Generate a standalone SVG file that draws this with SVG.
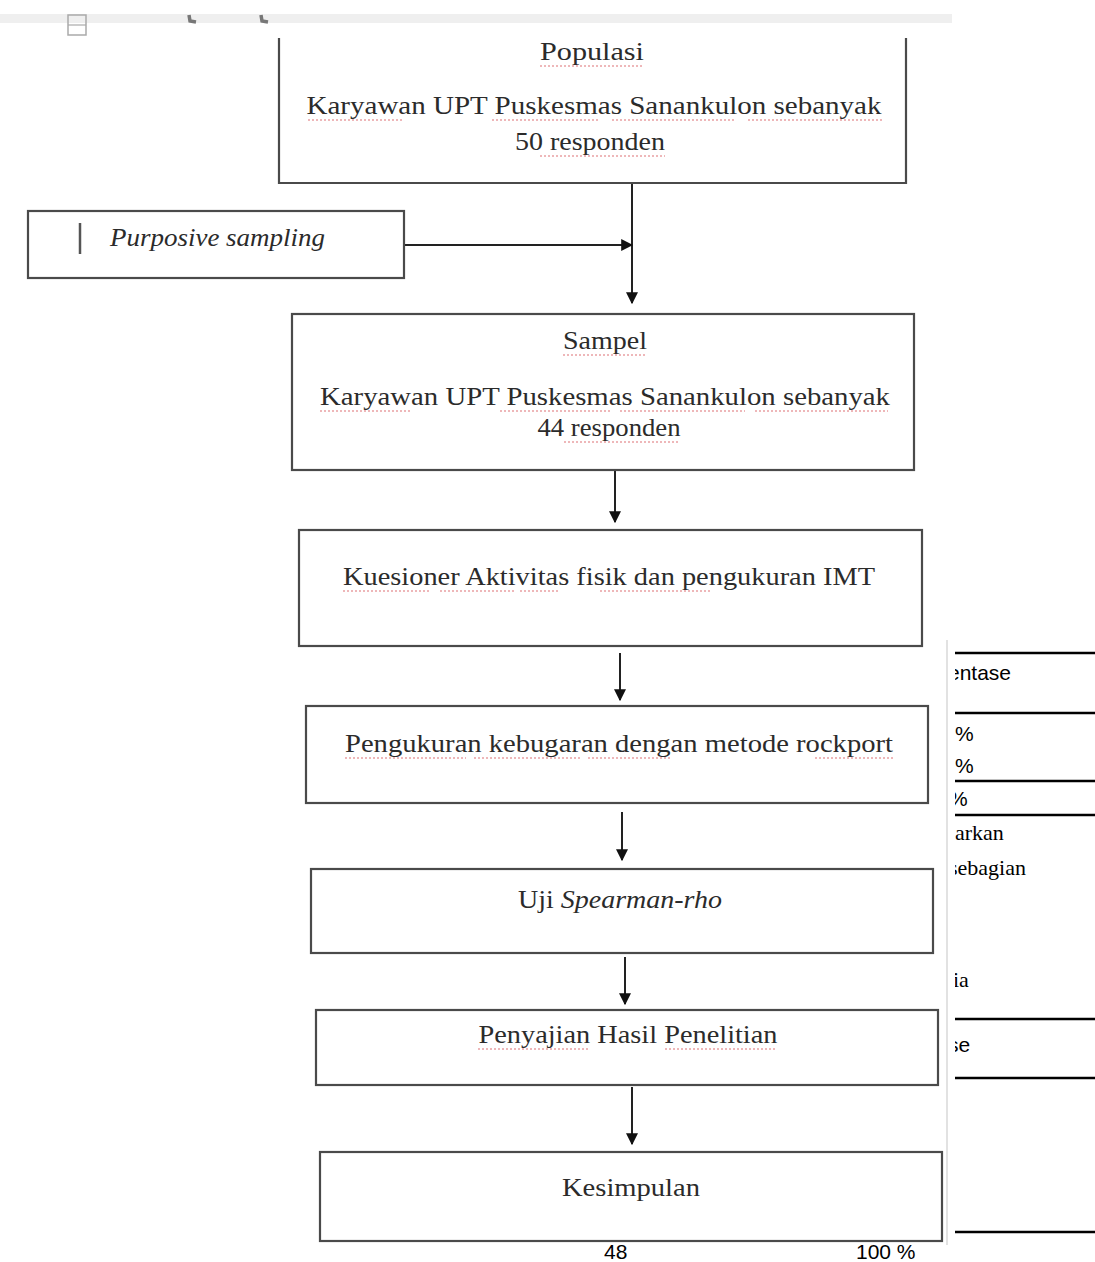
<svg xmlns="http://www.w3.org/2000/svg" width="1095" height="1262" viewBox="0 0 1095 1262">
<style>
.box{fill:#fff;stroke:#4a4a4a;stroke-width:2.2}
.t{font-family:"Liberation Serif","Times New Roman",serif;font-size:25px;fill:#2b2b2b;text-anchor:middle}
.ti{font-family:"Liberation Serif","Times New Roman",serif;font-size:25px;fill:#2b2b2b;font-style:italic}
.c{stroke:#222;stroke-width:2;fill:none}
.sq{stroke:#d0353a;stroke-width:1.2;fill:none;stroke-dasharray:2 2;opacity:.7}
.tbl{stroke:#000;stroke-width:2.5}
.ts{font-family:"Liberation Sans",Arial,sans-serif;font-size:21px;fill:#000}
.tr{font-family:"Liberation Serif","Times New Roman",serif;font-size:22px;fill:#000}
</style>
<defs>
<marker id="ah" viewBox="0 0 10 10" refX="9" refY="5" markerWidth="6" markerHeight="6" orient="auto" markerUnits="strokeWidth">
<path d="M0,0 L10,5 L0,10 z" fill="#111"/>
</marker>
<clipPath id="rc"><rect x="955" y="600" width="140" height="662"/></clipPath>
</defs>
<rect width="1095" height="1262" fill="#fff"/>
<!-- top toolbar strip of scan -->
<rect x="0" y="14" width="952" height="9" fill="#efefef"/>
<rect x="68" y="15" width="18" height="20" fill="none" stroke="#aaa" stroke-width="1.5"/>
<line x1="68" y1="25" x2="86" y2="25" stroke="#aaa" stroke-width="1.2"/>
<path d="M189,15 L190,21 L196,22" stroke="#777" stroke-width="3.5" fill="none"/>
<path d="M261,15 L262,21 L268,22" stroke="#777" stroke-width="3.5" fill="none"/>
<!-- right border of scan -->
<line x1="947" y1="640" x2="947" y2="1245" stroke="#e2e2e2" stroke-width="2"/>

<g id="connectors">
<line class="c" x1="632" y1="184" x2="632" y2="303" marker-end="url(#ah)"/>
<line class="c" x1="404" y1="245" x2="632" y2="245" marker-end="url(#ah)"/>
<line class="c" x1="615" y1="471" x2="615" y2="522" marker-end="url(#ah)"/>
<line class="c" x1="620" y1="653" x2="620" y2="700" marker-end="url(#ah)"/>
<line class="c" x1="622" y1="812" x2="622" y2="860" marker-end="url(#ah)"/>
<line class="c" x1="625" y1="957" x2="625" y2="1004" marker-end="url(#ah)"/>
<line class="c" x1="632" y1="1087" x2="632" y2="1144" marker-end="url(#ah)"/>
</g>

<g id="populasi">
<path class="box" d="M279,38 L279,183 L906,183 L906,38"/>
<text class="t" x="592" y="60" textLength="104" lengthAdjust="spacingAndGlyphs">Populasi</text>
<text class="t" x="594" y="114" textLength="575" lengthAdjust="spacingAndGlyphs">Karyawan UPT Puskesmas Sanankulon sebanyak</text>
<text class="t" x="590" y="150" textLength="150" lengthAdjust="spacingAndGlyphs">50 responden</text>
<path class="sq" d="M540,66 H644 M308,120 H402 M492,120 H600 M612,120 H735 M748,120 H882 M540,156 H665"/>
</g>

<g id="purposive">
<rect class="box" x="28" y="211" width="376" height="67"/>
<line x1="80" y1="223" x2="80" y2="254" stroke="#555" stroke-width="2.5"/>
<text class="ti" x="110" y="246" textLength="215" lengthAdjust="spacingAndGlyphs">Purposive sampling</text>
</g>

<g id="sampel">
<rect class="box" x="292" y="314" width="622" height="156"/>
<text class="t" x="605" y="349" textLength="84" lengthAdjust="spacingAndGlyphs">Sampel</text>
<text class="t" x="605" y="405" textLength="570" lengthAdjust="spacingAndGlyphs">Karyawan UPT Puskesmas Sanankulon sebanyak</text>
<text class="t" x="609" y="436" textLength="143" lengthAdjust="spacingAndGlyphs">44 responden</text>
<path class="sq" d="M563,355 H647 M320,411 H412 M500,411 H610 M620,411 H745 M755,411 H888 M564,442 H680"/>
</g>

<g id="kuesioner">
<rect class="box" x="299" y="530" width="623" height="116"/>
<text class="t" x="609" y="585" textLength="532" lengthAdjust="spacingAndGlyphs">Kuesioner Aktivitas fisik dan pengukuran IMT</text>
<path class="sq" d="M343,591 H430 M440,591 H515 M520,591 H560 M600,591 H712"/>
</g>

<g id="pengukuran">
<rect class="box" x="306" y="706" width="622" height="97"/>
<text class="t" x="619" y="752" textLength="548" lengthAdjust="spacingAndGlyphs">Pengukuran kebugaran dengan metode rockport</text>
<path class="sq" d="M345,758 H466 M474,758 H580 M588,758 H672 M815,758 H893"/>
</g>

<g id="uji">
<rect class="box" x="311" y="869" width="622" height="84"/>
<text class="t" x="620" y="908" textLength="204" lengthAdjust="spacingAndGlyphs">Uji <tspan font-style="italic">Spearman-rho</tspan></text>
</g>

<g id="penyajian">
<rect class="box" x="316" y="1010" width="622" height="75"/>
<text class="t" x="628" y="1043" textLength="299" lengthAdjust="spacingAndGlyphs">Penyajian Hasil Penelitian</text>
<path class="sq" d="M478,1049 H590 M665,1049 H777"/>
</g>

<g id="kesimpulan">
<rect class="box" x="320" y="1152" width="622" height="89"/>
<text class="t" x="631" y="1196" textLength="138" lengthAdjust="spacingAndGlyphs">Kesimpulan</text>
</g>

<!-- background table fragments on the right -->
<g id="table">
<line class="tbl" x1="955" y1="653" x2="1095" y2="653"/>
<line class="tbl" x1="955" y1="713" x2="1095" y2="713"/>
<line class="tbl" x1="955" y1="781" x2="1095" y2="781"/>
<line class="tbl" x1="955" y1="815" x2="1095" y2="815"/>
<line class="tbl" x1="955" y1="1019" x2="1095" y2="1019"/>
<line class="tbl" x1="955" y1="1078" x2="1095" y2="1078"/>
<line class="tbl" x1="955" y1="1232" x2="1095" y2="1232"/>
<g clip-path="url(#rc)">
<text class="ts" x="948" y="680">entase</text>
<text class="ts" x="955" y="741">%</text>
<text class="ts" x="955" y="773">%</text>
<text class="ts" x="949" y="806">%</text>
<text class="tr" x="955" y="840">arkan</text>
<text class="tr" x="949" y="875">sebagian</text>
<text class="tr" x="953" y="987">ia</text>
<text class="ts" x="948" y="1052">se</text>
</g>
<text class="ts" x="604" y="1259" font-size="19">48</text>
<text class="ts" x="856" y="1259" font-size="19">100 %</text>
</g>
</svg>
